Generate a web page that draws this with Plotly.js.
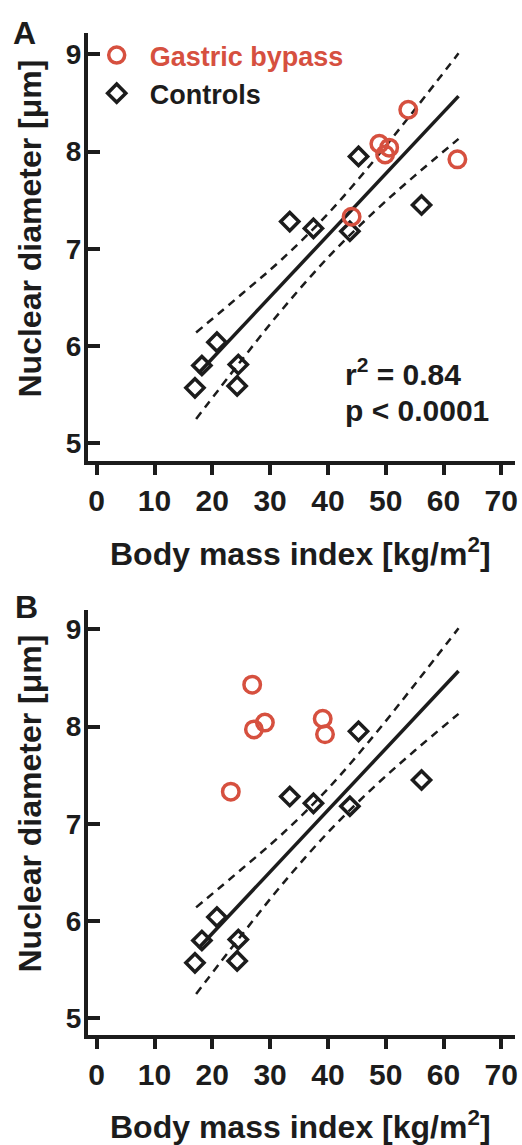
<!DOCTYPE html>
<html>
<head>
<meta charset="utf-8">
<script src="https://cdn.plot.ly/plotly-3.0.1.min.js"></script>
<style>html,body{margin:0;padding:0;background:#fff;}#chart{width:522px;height:1145px;}</style>
</head>
<body>
<div id="chart"></div>
<script>
// ---- data ----
const bmiGastricA = [53.9, 44.1, 62.4, 48.9, 50.6, 49.9];   // panel A (pre-surgery BMI)
const bmiGastricB = [26.9, 23.2, 39.5, 39.1, 29.1, 27.2];   // panel B (post-surgery BMI)
const nucGastric  = [8.43, 7.33, 7.92, 8.08, 8.04, 7.97];
const bmiControls = [17.0, 18.2, 20.8, 24.3, 24.5, 33.4, 37.5, 43.8, 45.3, 56.2];
const nucControls = [5.57, 5.80, 6.04, 5.59, 5.81, 7.28, 7.21, 7.18, 7.95, 7.45];
const fitX = [17.6, 62.6];
const fitY = [5.72, 8.57];
const bandX = [17.2, 25, 32, 40, 48, 55, 62.6];
const bandUpper = [6.14, 6.53, 6.89, 7.36, 7.91, 8.43, 9.01];
const bandLower = [5.25, 5.85, 6.37, 6.91, 7.38, 7.75, 8.13];
const xTicks = [0, 10, 20, 30, 40, 50, 60, 70];
const yTicks = [5, 6, 7, 8, 9];

const RED = '#d6503f';
const INK = '#1c1c1c';
const FONT = 'Liberation Sans, Arial, Helvetica, sans-serif';

function lineTraces(xa, ya) {
  return [
    {x: bandX, y: bandUpper, xaxis: xa, yaxis: ya, mode: 'lines', showlegend: false, hoverinfo: 'skip',
     line: {color: INK, width: 2.5, dash: '8px,6px', shape: 'spline'}},
    {x: bandX, y: bandLower, xaxis: xa, yaxis: ya, mode: 'lines', showlegend: false, hoverinfo: 'skip',
     line: {color: INK, width: 2.5, dash: '8px,6px', shape: 'spline'}},
    {x: fitX, y: fitY, xaxis: xa, yaxis: ya, mode: 'lines', showlegend: false, hoverinfo: 'skip',
     line: {color: INK, width: 3.5}}
  ];
}

const data = [].concat(
  lineTraces('x', 'y'),
  [
    {x: bmiControls, y: nucControls, xaxis: 'x', yaxis: 'y', mode: 'markers', name: 'Controls',
     marker: {symbol: 'diamond-open', size: 14, color: INK, line: {width: 3.5, color: INK}}},
    {x: bmiGastricA, y: nucGastric, xaxis: 'x', yaxis: 'y', mode: 'markers',
     name: '<span style="color:' + RED + '">Gastric bypass</span>',
     marker: {symbol: 'circle-open', size: 16.5, color: RED, line: {width: 3.5, color: RED}}}
  ],
  lineTraces('x2', 'y2'),
  [
    {x: bmiControls, y: nucControls, xaxis: 'x2', yaxis: 'y2', mode: 'markers', showlegend: false,
     marker: {symbol: 'diamond-open', size: 14, color: INK, line: {width: 3.5, color: INK}}},
    {x: bmiGastricB, y: nucGastric, xaxis: 'x2', yaxis: 'y2', mode: 'markers', showlegend: false,
     marker: {symbol: 'circle-open', size: 16.5, color: RED, line: {width: 3.5, color: RED}}}
  ]
);

function xAxis(anchor) {
  return {
    anchor: anchor, domain: [88/522, 515/522], range: [-1.505, 72.37],
    tickmode: 'array', tickvals: xTicks, ticktext: xTicks.map(String),
    ticks: 'outside', ticklen: 10, tickwidth: 4, tickcolor: INK,
    showline: true, linewidth: 4, linecolor: INK, showgrid: false, zeroline: false,
    tickfont: {family: FONT, size: 30, color: INK, weight: 700}, fixedrange: true
  };
}
function yAxis(anchor, dom, rng) {
  return {
    anchor: anchor, domain: dom, range: rng,
    tickmode: 'array', tickvals: yTicks, ticktext: yTicks.map(String),
    ticks: 'inside', ticklen: 12, tickwidth: 4, tickcolor: INK, ticklabelstandoff: -3,
    showline: true, linewidth: 4, linecolor: INK, showgrid: false, zeroline: false,
    tickfont: {family: FONT, size: 28, color: INK, weight: 700}, fixedrange: true
  };
}

const H = 1145, W = 522;
function px(v) { return v / W; }
function py(v) { return 1 - v / H; }
const tf = (s) => ({family: FONT, size: s, color: INK, weight: 700});

const annotations = [
  {text: 'A', x: px(24.5), y: py(33), xref: 'paper', yref: 'paper', showarrow: false, font: tf(32), xanchor: 'center', yanchor: 'middle'},
  {text: 'B', x: px(26), y: py(607), xref: 'paper', yref: 'paper', showarrow: false, font: tf(32), xanchor: 'center', yanchor: 'middle'},
  {text: 'Nuclear diameter [μm]', x: px(29.5), y: py(229), xref: 'paper', yref: 'paper', showarrow: false, textangle: -90, font: tf(32), xanchor: 'center', yanchor: 'middle'},
  {text: 'Nuclear diameter [μm]', x: px(29.5), y: py(804), xref: 'paper', yref: 'paper', showarrow: false, textangle: -90, font: tf(32), xanchor: 'center', yanchor: 'middle'},
  {text: 'Body mass index [kg/m<sup>2</sup>]', x: px(300.7), y: py(552), xref: 'paper', yref: 'paper', showarrow: false, font: tf(32), xanchor: 'center', yanchor: 'middle'},
  {text: 'Body mass index [kg/m<sup>2</sup>]', x: px(300.7), y: py(1125), xref: 'paper', yref: 'paper', showarrow: false, font: tf(32), xanchor: 'center', yanchor: 'middle'},
  {text: 'r<sup>2</sup> = 0.84', x: px(343), y: py(371.7), xref: 'paper', yref: 'paper', showarrow: false, font: tf(30), xanchor: 'left', yanchor: 'middle'},
  {text: 'p &lt; 0.0001', x: px(343), y: py(410.8), xref: 'paper', yref: 'paper', showarrow: false, font: tf(30), xanchor: 'left', yanchor: 'middle'}
];

const layout = {
  width: W, height: H,
  margin: {l: 0, r: 0, t: 0, b: 0, pad: 0},
  paper_bgcolor: '#ffffff', plot_bgcolor: 'rgba(0,0,0,0)',
  showlegend: true,
  legend: {
    x: px(83.7), y: py(31), xanchor: 'left', yanchor: 'top', xref: 'paper', yref: 'paper',
    bgcolor: 'rgba(0,0,0,0)', borderwidth: 0, itemwidth: 56, traceorder: 'reversed',
    font: {family: FONT, size: 27, color: INK, weight: 700}, itemclick: false, itemdoubleclick: false
  },
  xaxis: xAxis('y'),
  yaxis: yAxis('x', [1 - 461/H, 1 - 33.3/H], [4.818, 9.216]),
  xaxis2: xAxis('y2'),
  yaxis2: yAxis('x2', [1 - 1034.7/H, 1 - 610/H], [4.831, 9.198]),
  annotations: annotations
};

Plotly.newPlot('chart', data, layout, {displayModeBar: false, staticPlot: true});
</script>
</body>
</html>
